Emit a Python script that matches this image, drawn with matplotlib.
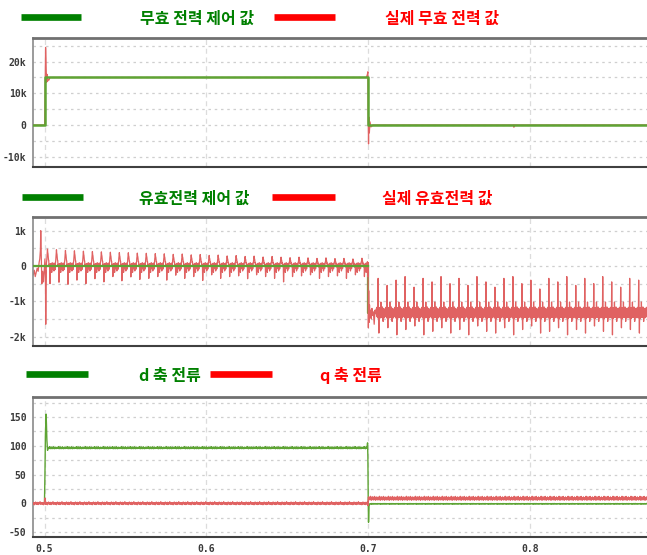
import numpy as np
import matplotlib
matplotlib.use("Agg")
import matplotlib.pyplot as plt
from matplotlib.lines import Line2D

plt.rcParams['font.family'] = ['Noto Sans CJK KR', 'DejaVu Sans']

# ---------------------------------------------------------------- time base
T_BEGIN, T_END = 0.4930, 0.8725
RIPPLE_HZ = 180                      # dominant ripple of the measured signals
X_TICKS = [0.5, 0.6, 0.7, 0.8]
X_TICK_LABELS = ['0.5', '0.6', '0.7', '0.8']

# ---------------------------------------------------------------- panel 1: reactive power [var]
Q_REF_T = [0.4930, 0.5000, 0.5000, 0.7000, 0.7000, 0.8725]
Q_REF_V = [0, 0, 15000, 15000, 0, 0]
Q_MEAS_T = [0.4930, 0.5000, 0.5003, 0.5006, 0.5008, 0.5010, 0.5012, 0.5015, 0.5018,
            0.5022, 0.5027, 0.5033, 0.5045, 0.6990, 0.6996, 0.6999, 0.7001, 0.7003,
            0.7005, 0.7008, 0.7012, 0.7018, 0.7030, 0.7900, 0.7902, 0.7904, 0.8725]
Q_MEAS_V = [0, 0, 10500, 24500, 21000, 17000, 13500, 16000, 13800,
            14500, 14200, 15000, 15000, 15000, 16000, 16800, 2000, -6000,
            2500, -2500, 1000, -600, 0, 0, -700, 0, 0]
Q_YTICKS = [-10000, 0, 10000, 20000]
Q_YTICK_LABELS = ['-10k', '0', '10k', '20k']
Q_YLIM = (-13260, 27470)

# ---------------------------------------------------------------- panel 2: active power [W]
P_REF_T = [0.4930, 0.7000, 0.7000, 0.8725]
P_REF_V = [0, 0, -1320, -1320]

# start-up transient around 0.5 s
P_START_T = [0.4930, 0.4936, 0.4942, 0.4948, 0.4954, 0.4960, 0.4966, 0.4970, 0.4974,
             0.4976, 0.4979, 0.4983, 0.4988, 0.4993, 0.4998, 0.5002, 0.5005, 0.5007,
             0.5009, 0.5011]
P_START_V = [-250, -120, -300, -180, -60, -150, 100, 200, 450,
             1000, 300, -500, -150, -450, -100, 200, -300, -1650,
             -600, -150]

# periodic teeth while the reference is 0 (one entry per ripple period)
P_ON_T0 = 0.5010
P_ON_END = 0.6996
P_TOOTH_PEAK = [450, 430, 410, 400, 390, 380, 370, 360, 350, 345, 335, 330,
                320, 315, 300, 310, 285, 295, 270, 280, 255, 265, 240, 250,
                225, 240, 220, 205, 220, 200, 185, 200, 180, 185, 170, 190]
P_TOOTH_DIP = [-500, -460, -520, -400, -500, -360, -450, -300, -420, -310, -380, -350,
               -300, -400, -260, -350, -300, -410, -250, -350, -300, -280, -360, -250,
               -300, -350, -450, -300, -280, -250, -350, -300, -280, -350, -250, -300]
P_TOOTH_SHAPE = [-0.1, 0.15, 0.35, 0.6, 0.85, 1.0, 0.9, 0.75, 0.6, 0.45, 0.32, 0.2,
                 0.1, 0.05, 0, 0, 0, 0, 0, 0, 0, 0, 0, 0,
                 0, 0, 0, 0, 0, 0, 0, 0, 0, 0, 0, -0.1]
P_DIP_SHAPE = [0, 0, 0, 0, 0, 0, 0, 0, 0, 0, 0, 0,
               0, 0, 0, 1.0, 0.3, 0, 0, 0, 0, 0, 0, 0,
               0, 0, 0, 0, 0, 0, 0, 0, 0, 0, 0, 0]
P_ON_NOISE = [-40, 30, 0, 20, -10, 30, -20, 10, 0, -30, 20, -60,
              0, 30, -40, 0, 0, 60, -90, 50, -30, 80, -180, 20,
              40, -80, 90, -50, 10, -70, 60, -140, 30, -40, 80, -60]

# step to -1.32 kW at 0.7 s
P_STEP_T = [0.6996, 0.6998, 0.7000, 0.7002, 0.7004, 0.7006, 0.7009, 0.7012, 0.7016,
            0.7020, 0.7024, 0.7028, 0.7033, 0.7038, 0.7043, 0.7048]
P_STEP_V = [120, -300, 100, -1750, -700, -1600, -1100, -1450, -1250,
            -1500, -1200, -1400, -1300, -1650, -1250, -1350]

# periodic spikes while the reference is -1.32 kW
P_OFF_T0 = 0.7050
P_OFF_LEVEL = -1320
P_OFF_UP = [-350, -550, -400, -300, -600, -350, -450, -300, -500, -350, -550,
            -300, -450, -600, -350, -300, -500, -400, -650, -350, -450, -300,
            -550, -350, -500, -300, -450, -600, -350, -400, -500]
P_OFF_DOWN = [-1900, -1750, -1950, -1800, -1700, -1950, -1850, -1750, -1900, -1800, -1950,
              -1700, -1850, -1900, -1750, -1950, -1800, -1700, -1900, -1850, -1750, -1950,
              -1800, -1900, -1700, -1850, -1950, -1750, -1800, -1900, -1850]
P_OFF_NOISE = [0, 110, -80, 150, -120, 60, -150, 90, 0, 130, -100, 0,
               -60, 140, -170, 80, -40, 120, -130, 300, -90, 50, -140, 100,
               -30, 160, -110, 70, -250, 40, 120, -80, 30, -150, 90, -60]
P_OFF_UP_IDX, P_OFF_DOWN_IDX = 8, 11
P_YTICKS = [-2000, -1000, 0, 1000]
P_YTICK_LABELS = ['-2k', '-1k', '0', '1k']
P_YLIM = (-2266, 1388)

# ---------------------------------------------------------------- panel 3: dq currents [A]
ID_ON_T = [0.4930, 0.4999, 0.5002, 0.5005, 0.5009, 0.5011, 0.5014, 0.5018, 0.5022]
ID_ON_V = [0, 0, 50, 120, 155, 140, 110, 92, 96]
ID_ON_LEVEL = 96
ID_OFF_T = [0.6994, 0.6997, 0.6999, 0.7001, 0.7003, 0.7006, 0.7010]
ID_OFF_V = [96, 105, 80, 10, -33, -5, -1]
ID_OFF_LEVEL = -1
ID_NOISE = [0, 1.2, -0.8, 2.5, -0.5, 0.8, -1.2, 0.3, 1.8, -0.6, 0.9, -1.0,
            0.4, 2.2, -0.7, 0.6, -1.1, 1.0, -0.3, 1.5, -0.9, 0.7, -0.4, 1.3]
ID_OFF_NOISE = [0, 0.3, -0.2, 0.5, -0.3, 0.2, -0.4, 0.1, 0.4, -0.2, 0.3, -0.3,
                0.1, 0.5, -0.2, 0.2, -0.3, 0.3, -0.1, 0.4, -0.3, 0.2, -0.1, 0.3]

IQ_ON_LEVEL = 0
IQ_JUMP_T = [0.4999, 0.5002, 0.5005, 0.5008]
IQ_JUMP_V = [0, 9, -2, 2]
IQ_STEP_T = [0.6999, 0.7001, 0.7003, 0.7006]
IQ_STEP_V = [-4, 6, 11, 6]
IQ_OFF_LEVEL = 8
IQ_NOISE = [0, -1.5, 1.0, -2.5, 0.5, -1.0, 2.0, -0.5, 1.2, -1.8, 0.3, -0.8,
            1.5, -2.2, 0.6, -1.2, 0.9, -0.4, 2.5, -1.6, 0.2, -0.9, 1.1, -1.4]
IQ_OFF_NOISE = [0, 2.0, -1.5, 4.0, -2.0, 1.2, -2.5, 1.6, 3.2, -1.2, 0.8, -2.2,
                2.4, -1.0, 3.8, -1.8, 0.6, -2.6, 1.8, -0.6, 3.0, -1.5, 1.0, -2.2]
I_YTICKS = [-50, 0, 50, 100, 150]
I_YTICK_LABELS = ['-50', '0', '50', '100', '150']
I_YLIM = (-58.7, 184.8)

# ---------------------------------------------------------------- styles
GREEN_TRACE = '#5ea434'
RED_TRACE = '#e06262'
GREEN_KEY = '#008000'
RED_KEY = '#ff0000'


def period_grid(t0, t1, per_period):
    """Sample instants of whole ripple periods from t0, plus a mask for t < t1."""
    n = int(np.ceil((t1 - t0) * RIPPLE_HZ))
    t = t0 + np.arange(n * per_period) / (per_period * RIPPLE_HZ)
    return t, n, t < t1


def level_with_ripple(t0, t1, level, offsets):
    t, n, keep = period_grid(t0, t1, len(offsets))
    v = level + np.tile(np.asarray(offsets, float), n)
    return t[keep], v[keep]


# active power: teeth section
m = len(P_TOOTH_SHAPE)
t_on, n_on, keep_on = period_grid(P_ON_T0, P_ON_END, m)
v_on = (np.repeat(np.asarray(P_TOOTH_PEAK[:n_on], float), m) * np.tile(P_TOOTH_SHAPE, n_on)
        + np.repeat(np.asarray(P_TOOTH_DIP[:n_on], float), m) * np.tile(P_DIP_SHAPE, n_on)
        + np.tile(P_ON_NOISE, n_on))
t_on, v_on = t_on[keep_on], v_on[keep_on]

# active power: spikes section
m = len(P_OFF_NOISE)
t_off, n_off, keep_off = period_grid(P_OFF_T0, T_END, m)
v_off = P_OFF_LEVEL + np.tile(np.asarray(P_OFF_NOISE, float), n_off)
v_off[P_OFF_UP_IDX::m] = P_OFF_UP[:n_off]
v_off[P_OFF_DOWN_IDX::m] = P_OFF_DOWN[:n_off]
t_off, v_off = t_off[keep_off], v_off[keep_off]

p_meas_t = np.concatenate([P_START_T, t_on, P_STEP_T, t_off])
p_meas_v = np.concatenate([P_START_V, v_on, P_STEP_V, v_off])

# d-axis current
t_a, v_a = level_with_ripple(ID_ON_T[-1] + 0.0003, ID_OFF_T[0], ID_ON_LEVEL, ID_NOISE)
t_b, v_b = level_with_ripple(ID_OFF_T[-1] + 0.0003, T_END, ID_OFF_LEVEL, ID_OFF_NOISE)
id_t = np.concatenate([ID_ON_T, t_a, ID_OFF_T, t_b])
id_v = np.concatenate([ID_ON_V, v_a, ID_OFF_V, v_b])

# q-axis current
t_a, v_a = level_with_ripple(T_BEGIN, IQ_JUMP_T[0], IQ_ON_LEVEL, IQ_NOISE)
t_b, v_b = level_with_ripple(IQ_JUMP_T[-1] + 0.0002, IQ_STEP_T[0], IQ_ON_LEVEL, IQ_NOISE)
t_c, v_c = level_with_ripple(IQ_STEP_T[-1] + 0.0002, T_END, IQ_OFF_LEVEL, IQ_OFF_NOISE)
iq_t = np.concatenate([t_a, IQ_JUMP_T, t_b, IQ_STEP_T, t_c])
iq_v = np.concatenate([v_a, IQ_JUMP_V, v_b, IQ_STEP_V, v_c])

# ---------------------------------------------------------------- figure
W, H = 647, 555
fig = plt.figure(figsize=(W / 100, H / 100), dpi=100)


def px_axes(top, bottom, left=33.3, right=647):
    return fig.add_axes([left / W, 1 - bottom / H, (right - left) / W, (bottom - top) / H])


def style_axes(ax, yticks, ylabels, ylim, minor_step, show_x):
    ax.set_xlim(T_BEGIN, T_END)
    ax.set_ylim(*ylim)
    ax.set_xticks(X_TICKS)
    ax.set_xticklabels(X_TICK_LABELS if show_x else [])
    ax.set_yticks(yticks)
    ax.set_yticklabels(ylabels)
    lo = np.ceil(ylim[0] / minor_step) * minor_step
    ax.set_yticks(np.arange(lo, ylim[1], minor_step), minor=True)
    ax.tick_params(which='both', length=0)
    ax.tick_params(axis='y', pad=5)
    ax.tick_params(axis='x', pad=5)
    for lab in ax.get_xticklabels() + ax.get_yticklabels():
        lab.set_fontfamily('DejaVu Sans Mono')
        lab.set_fontsize(7)
        lab.set_fontweight('bold')
        lab.set_color('#3a3a3a')
    ax.grid(True, axis='y', which='both', color='#cfcfcf', ls=(0, (2, 3)), lw=0.9)
    ax.grid(True, axis='x', which='major', color='#dcdcdc', ls=(0, (4, 3)), lw=0.9)
    ax.set_axisbelow(True)
    ax.spines['right'].set_visible(False)
    ax.spines['top'].set_color('#707070')
    ax.spines['top'].set_linewidth(2.0)
    ax.spines['bottom'].set_color('#404040')
    ax.spines['bottom'].set_linewidth(1.5)
    ax.spines['left'].set_color('#8a8a8a')
    ax.spines['left'].set_linewidth(1.2)


def legend_row(y, items):
    for x0, x1, color, tx, text in items:
        fig.add_artist(Line2D([x0 / W, x1 / W], [1 - y / H, 1 - y / H],
                              color=color, lw=4.8, solid_capstyle='butt'))
        fig.text(tx / W, 1 - (y + 1.5) / H, text, color=color, fontsize=11.5,
                 fontweight='bold', ha='center', va='center')


# panel 1
ax1 = px_axes(38, 167)
ax1.plot(Q_MEAS_T, Q_MEAS_V, color=RED_TRACE, lw=0.9, zorder=2)
ax1.plot(Q_REF_T, Q_REF_V, color=GREEN_TRACE, lw=1.8, zorder=3)
style_axes(ax1, Q_YTICKS, Q_YTICK_LABELS, Q_YLIM, 5000, False)
legend_row(17, [(21, 81, GREEN_KEY, 197, '무효 전력 제어 값'),
                (274, 335, RED_KEY, 442, '실제 무효 전력 값')])

# panel 2: the zero reference stays visible, the -1.32 kW part sits under the noise
ax2 = px_axes(217, 346)
ax2.plot(P_REF_T[:2], P_REF_V[:2], color=GREEN_TRACE, lw=1.6, zorder=3)
ax2.plot(P_REF_T[1:], P_REF_V[1:], color=GREEN_TRACE, lw=1.6, zorder=1.5)
ax2.plot(p_meas_t, p_meas_v, color=RED_TRACE, lw=0.9, zorder=2)
style_axes(ax2, P_YTICKS, P_YTICK_LABELS, P_YLIM, 500, False)
legend_row(197, [(22, 83, GREEN_KEY, 194, '유효전력 제어 값'),
                 (272, 335, RED_KEY, 437, '실제 유효전력 값')])

# panel 3
ax3 = px_axes(397, 537)
ax3.plot(id_t, id_v, color=GREEN_TRACE, lw=1.0, zorder=2)
ax3.plot(iq_t, iq_v, color=RED_TRACE, lw=1.0, zorder=3)
style_axes(ax3, I_YTICKS, I_YTICK_LABELS, I_YLIM, 25, True)
legend_row(374, [(26, 88, GREEN_KEY, 170, 'd 축 전류'),
                 (210, 272, RED_KEY, 351, 'q 축 전류')])

fig.savefig('out.png', dpi=100)
